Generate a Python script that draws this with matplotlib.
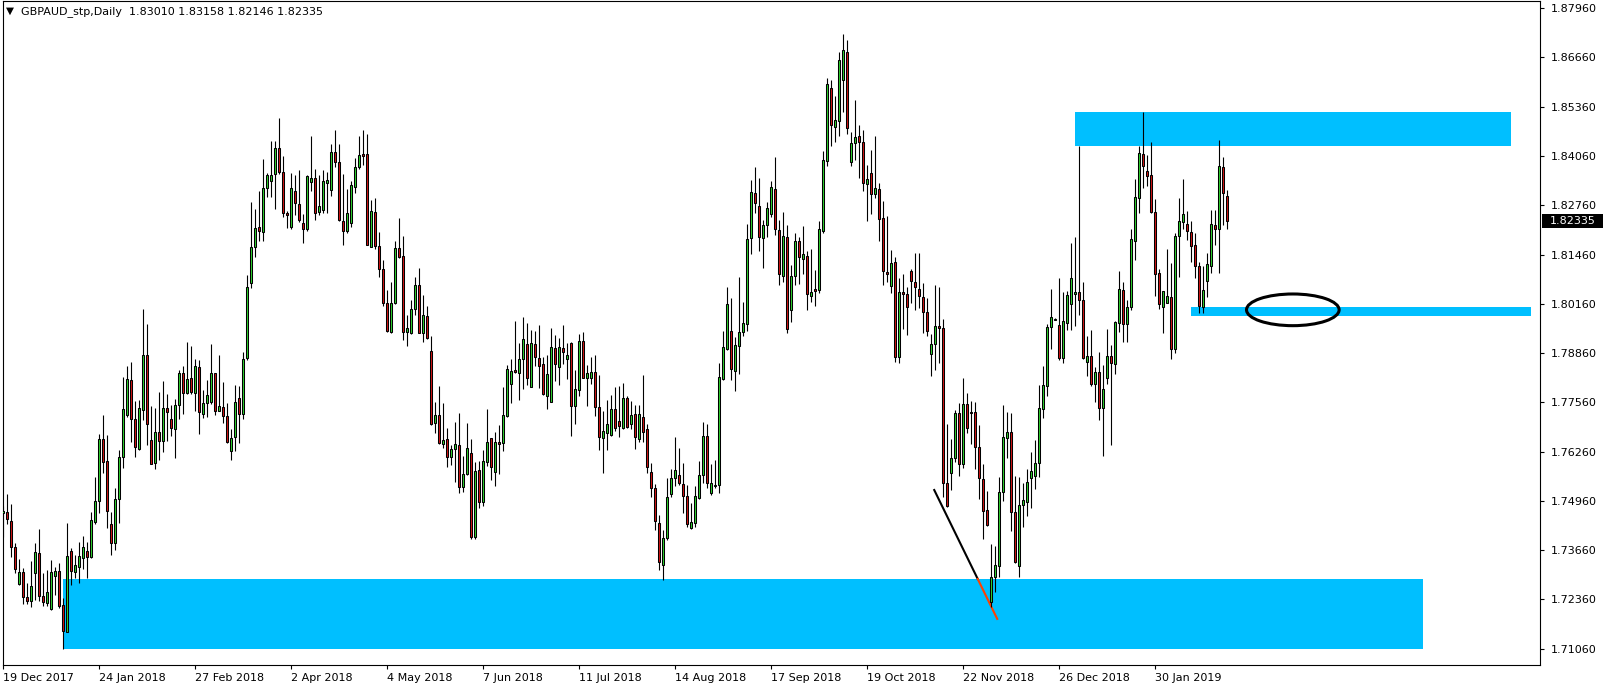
import matplotlib
matplotlib.use("Agg")
import matplotlib.pyplot as plt
from matplotlib.patches import Rectangle, Ellipse

# GBPAUD daily candles, 19 Dec 2017 .. Feb 2019 (bar index = position)
opens = [
    1.74638, 1.74656, 1.74427, 1.73732, 1.72755, 1.73072, 1.72412, 1.72324, 1.73063, 1.73573,
    1.72447, 1.72272, 1.72096, 1.72984, 1.73098, 1.72201, 1.71506, 1.73644, 1.73090, 1.73204,
    1.73459, 1.73626, 1.73485, 1.74409, 1.74963, 1.76582, 1.76002, 1.74339, 1.73855, 1.74999,
    1.76125, 1.77224, 1.78148, 1.77110, 1.76327, 1.77356, 1.78799, 1.76556, 1.75949, 1.76767,
    1.76529, 1.77400, 1.77109, 1.76846, 1.77488, 1.78323, 1.77796, 1.78192, 1.77796, 1.78499,
    1.77250, 1.77532, 1.77576, 1.78323, 1.77338, 1.77426, 1.77197, 1.76274, 1.76652, 1.77664,
    1.77241, 1.78719, 1.80699, 1.81649, 1.82177, 1.82045, 1.83206, 1.83408, 1.83584, 1.84261,
    1.83628, 1.82546, 1.82194, 1.83135, 1.82784, 1.82282, 1.82124, 1.83382, 1.83470, 1.82572,
    1.82634, 1.83356, 1.83163, 1.84157, 1.83893, 1.82345, 1.82089, 1.82301, 1.83251, 1.83761,
    1.84113, 1.84113, 1.81667, 1.82573, 1.81685, 1.81069, 1.80172, 1.79406, 1.80172, 1.81632,
    1.81421, 1.79424, 1.79380, 1.80013, 1.80656, 1.79380, 1.79837, 1.78914, 1.77005, 1.77225,
    1.76451, 1.76583, 1.76125, 1.76319, 1.76433, 1.75333, 1.75659, 1.76213, 1.73996, 1.75773,
    1.74920, 1.75975, 1.76608, 1.75711, 1.76503, 1.76476, 1.77206, 1.78033, 1.78403, 1.78341,
    1.78693, 1.79089, 1.77972, 1.79089, 1.78720, 1.78570, 1.77734, 1.77576, 1.78983, 1.78500,
    1.78983, 1.78711, 1.79115, 1.77470, 1.77875, 1.79186, 1.78209, 1.78192, 1.78350, 1.77444,
    1.76608, 1.76740, 1.76687, 1.77374, 1.77074, 1.76872, 1.77664, 1.76978, 1.77242, 1.76582,
    1.77162, 1.76846, 1.75729, 1.75289, 1.74382, 1.73266, 1.73970, 1.75131, 1.75553, 1.75641,
    1.75404, 1.75087, 1.74234, 1.74383, 1.75043, 1.75641, 1.76670, 1.75157, 1.75360, 1.75377,
    1.78175, 1.78966, 1.79450, 1.78395, 1.79054, 1.79406, 1.79617, 1.81887, 1.83075, 1.82749,
    1.81887, 1.82230, 1.82520, 1.83198, 1.82107, 1.80902, 1.81913, 1.79996, 1.80893, 1.81817,
    1.81342, 1.81421, 1.80374, 1.80541, 1.80524, 1.82089, 1.83935, 1.85854, 1.84833, 1.84991,
    1.86065, 1.86804, 1.83893, 1.84394, 1.84587, 1.84437, 1.83321, 1.83603, 1.83048, 1.83180,
    1.82415, 1.80990, 1.80629, 1.81271, 1.78747, 1.80480, 1.80409, 1.81025, 1.80744, 1.80541,
    1.80348, 1.79952, 1.78826, 1.79090, 1.79582, 1.79512, 1.75439, 1.75703, 1.76081, 1.77269,
    1.75923, 1.77505, 1.77294, 1.77294, 1.76371, 1.75535, 1.74717, 1.72300, 1.72941, 1.73248,
    1.75183, 1.76608, 1.76766, 1.74655, 1.73248, 1.74849, 1.74937, 1.75552, 1.75623, 1.75948,
    1.77373, 1.77998, 1.79555, 1.79740, 1.79599, 1.78737, 1.79661, 1.80144, 1.80408, 1.80461,
    1.80259, 1.78631, 1.78781, 1.78042, 1.78350, 1.77400, 1.78209, 1.78781, 1.78561, 1.79643,
    1.80523, 1.79617, 1.80083, 1.81825, 1.82942, 1.84112, 1.83663, 1.83549, 1.82572, 1.80963,
    1.80083, 1.80171, 1.80347, 1.78957, 1.81948, 1.82326, 1.82256, 1.82045, 1.81710, 1.81165,
    1.80065, 1.80769, 1.81165, 1.82238, 1.82124, 1.83778, 1.83010,
]
highs = [
    1.74823, 1.75139, 1.74875, 1.73837, 1.73415, 1.73178, 1.72782, 1.73371, 1.73837, 1.74216,
    1.73046, 1.73134, 1.73397, 1.73222, 1.73310, 1.72386, 1.74365, 1.73723, 1.73521, 1.73873,
    1.74031, 1.73881, 1.74656, 1.75597, 1.76723, 1.77224, 1.76696, 1.74673, 1.75289, 1.76301,
    1.78218, 1.78517, 1.78623, 1.77602, 1.77620, 1.80022, 1.79626, 1.77471, 1.77400, 1.77831,
    1.78122, 1.77778, 1.77488, 1.77646, 1.78411, 1.78517, 1.79142, 1.79054, 1.78693, 1.78675,
    1.77884, 1.78139, 1.79089, 1.78341, 1.78798, 1.78104, 1.77532, 1.76863, 1.78007, 1.77989,
    1.78886, 1.80919, 1.82836, 1.82652, 1.83135, 1.83971, 1.83619, 1.84455, 1.84455, 1.85071,
    1.84059, 1.82599, 1.83602, 1.83566, 1.83690, 1.82520, 1.83549, 1.84596, 1.83707, 1.83558,
    1.83690, 1.83629, 1.84377, 1.84746, 1.84377, 1.83585, 1.83189, 1.83400, 1.83998, 1.84588,
    1.84746, 1.84641, 1.82899, 1.82943, 1.82054, 1.81315, 1.80524, 1.80726, 1.81817, 1.82433,
    1.81949, 1.79864, 1.80260, 1.80858, 1.81104, 1.80392, 1.80101, 1.79310, 1.77559, 1.77990,
    1.77533, 1.76873, 1.76433, 1.77031, 1.77269, 1.76143, 1.77005, 1.76583, 1.75976, 1.76019,
    1.76301, 1.77382, 1.76608, 1.76767, 1.76960, 1.77954, 1.78544, 1.78693, 1.79705, 1.79115,
    1.79802, 1.79643, 1.79467, 1.79450, 1.79599, 1.78746, 1.78799, 1.79511, 1.79335, 1.79247,
    1.79599, 1.79115, 1.79142, 1.78412, 1.79362, 1.79406, 1.78535, 1.78746, 1.78799, 1.78271,
    1.77321, 1.77611, 1.77752, 1.77954, 1.77989, 1.78060, 1.77717, 1.77594, 1.77488, 1.77488,
    1.78280, 1.76978, 1.75949, 1.75395, 1.74585, 1.74189, 1.75553, 1.75799, 1.76653, 1.76362,
    1.75949, 1.75377, 1.74911, 1.75351, 1.76011, 1.77031, 1.76978, 1.75931, 1.76037, 1.78588,
    1.79450, 1.80594, 1.80321, 1.79292, 1.80875, 1.80216, 1.82265, 1.83418, 1.83761, 1.83470,
    1.82371, 1.82855, 1.83409, 1.84025, 1.82371, 1.82573, 1.82230, 1.81183, 1.82019, 1.81913,
    1.82213, 1.81553, 1.81597, 1.81051, 1.82345, 1.84192, 1.86118, 1.86065, 1.85643, 1.86804,
    1.87279, 1.87121, 1.84685, 1.85537, 1.84878, 1.84746, 1.83822, 1.84218, 1.84588, 1.83356,
    1.82872, 1.82477, 1.81579, 1.81386, 1.80832, 1.80946, 1.80594, 1.81069, 1.81491, 1.81491,
    1.80700, 1.80304, 1.79362, 1.80656, 1.80594, 1.79749, 1.76987, 1.76583, 1.77357, 1.77533,
    1.78210, 1.77796, 1.77593, 1.77576, 1.76960, 1.75931, 1.75227, 1.73813, 1.73768, 1.75579,
    1.77488, 1.77294, 1.77268, 1.75614, 1.75596, 1.75420, 1.75790, 1.76256, 1.76564, 1.78016,
    1.78526, 1.79625, 1.80549, 1.79775, 1.80848, 1.80461, 1.80496, 1.81772, 1.81930, 1.84332,
    1.80725, 1.79309, 1.79467, 1.78499, 1.78878, 1.78543, 1.79485, 1.79071, 1.79705, 1.81024,
    1.80725, 1.80259, 1.82124, 1.83452, 1.84323, 1.85220, 1.84085, 1.84420, 1.82924, 1.81068,
    1.80505, 1.81605, 1.81244, 1.82036, 1.82942, 1.83452, 1.82608, 1.82352, 1.82036, 1.81270,
    1.81165, 1.81508, 1.82634, 1.82634, 1.84481, 1.84041, 1.83158,
]
lows = [
    1.74013, 1.74348, 1.73468, 1.73046, 1.72738, 1.72236, 1.72236, 1.72148, 1.72342, 1.72315,
    1.72184, 1.72193, 1.72078, 1.72474, 1.72140, 1.71040, 1.71488, 1.72738, 1.72931, 1.72782,
    1.73151, 1.72931, 1.73459, 1.74348, 1.74629, 1.75685, 1.74251, 1.73529, 1.73661, 1.74383,
    1.75834, 1.77163, 1.76512, 1.76125, 1.76301, 1.77092, 1.76441, 1.75922, 1.75790, 1.76037,
    1.76257, 1.76547, 1.76678, 1.76080, 1.77109, 1.77250, 1.77769, 1.77778, 1.77338, 1.76714,
    1.77153, 1.77162, 1.77514, 1.77224, 1.77329, 1.77022, 1.76476, 1.76027, 1.76283, 1.76494,
    1.77109, 1.78675, 1.80567, 1.81402, 1.81816, 1.81825, 1.82986, 1.82986, 1.82669, 1.83584,
    1.82458, 1.82150, 1.82124, 1.82502, 1.82326, 1.81772, 1.82089, 1.83144, 1.82370, 1.82502,
    1.82546, 1.82547, 1.83013, 1.83779, 1.82353, 1.81711, 1.82037, 1.82195, 1.83075, 1.83708,
    1.83822, 1.81711, 1.81650, 1.81614, 1.80875, 1.80101, 1.79415, 1.79397, 1.80154, 1.81377,
    1.79204, 1.79054, 1.79362, 1.79873, 1.79380, 1.79160, 1.79222, 1.76961, 1.76741, 1.76459,
    1.76363, 1.75861, 1.75905, 1.75465, 1.75175, 1.75201, 1.75641, 1.73952, 1.73943, 1.74762,
    1.74832, 1.75887, 1.75509, 1.75359, 1.75658, 1.76283, 1.77180, 1.77550, 1.78341, 1.77620,
    1.77901, 1.78007, 1.77972, 1.78526, 1.77928, 1.77760, 1.77391, 1.77576, 1.78130, 1.78007,
    1.78561, 1.78165, 1.76679, 1.76995, 1.77734, 1.78209, 1.77470, 1.78042, 1.77206, 1.76300,
    1.75702, 1.76300, 1.76670, 1.76811, 1.76635, 1.76855, 1.76872, 1.76846, 1.76318, 1.76503,
    1.76520, 1.75703, 1.75069, 1.74189, 1.73134, 1.72870, 1.73926, 1.75052, 1.75360, 1.75377,
    1.74629, 1.74260, 1.74207, 1.74278, 1.74999, 1.75439, 1.75289, 1.75113, 1.75289, 1.75157,
    1.78148, 1.78940, 1.78148, 1.77867, 1.78307, 1.79309, 1.79441, 1.81465, 1.82564, 1.81553,
    1.81113, 1.81913, 1.82459, 1.81975, 1.80655, 1.80743, 1.79380, 1.79688, 1.80655, 1.80673,
    1.80946, 1.79996, 1.80198, 1.80101, 1.80453, 1.82037, 1.83804, 1.84331, 1.84437, 1.84587,
    1.85229, 1.84640, 1.83796, 1.83954, 1.83487, 1.83144, 1.82353, 1.82529, 1.82943, 1.81826,
    1.80656, 1.80744, 1.80453, 1.78632, 1.78588, 1.79486, 1.79336, 1.80172, 1.79996, 1.80040,
    1.79398, 1.79310, 1.78263, 1.78412, 1.78606, 1.75069, 1.74788, 1.75245, 1.75993, 1.75624,
    1.75817, 1.76740, 1.76450, 1.75790, 1.74998, 1.73943, 1.74294, 1.72150, 1.72554, 1.72940,
    1.74963, 1.76098, 1.74171, 1.73309, 1.72957, 1.74277, 1.74567, 1.74761, 1.75271, 1.75596,
    1.77153, 1.77734, 1.78966, 1.79722, 1.78675, 1.78605, 1.79467, 1.79467, 1.79573, 1.79863,
    1.78702, 1.78253, 1.77998, 1.77576, 1.77092, 1.76142, 1.78042, 1.76432, 1.78297, 1.79406,
    1.79159, 1.79159, 1.79995, 1.81314, 1.82564, 1.83223, 1.83267, 1.82564, 1.80373, 1.80012,
    1.79379, 1.80171, 1.78693, 1.78851, 1.80875, 1.82124, 1.81842, 1.81270, 1.80831, 1.79907,
    1.79907, 1.80347, 1.80963, 1.81710, 1.80963, 1.82238, 1.82146,
]
closes = [
    1.74691, 1.74471, 1.73749, 1.73151, 1.73072, 1.72430, 1.72324, 1.72711, 1.73600, 1.72456,
    1.72298, 1.72562, 1.73072, 1.73098, 1.72193, 1.71533, 1.73503, 1.73116, 1.73257, 1.73503,
    1.73732, 1.73485, 1.74453, 1.74963, 1.76582, 1.75993, 1.74699, 1.73855, 1.74999, 1.76125,
    1.77374, 1.78165, 1.77110, 1.76388, 1.77400, 1.78799, 1.76978, 1.75940, 1.76767, 1.76547,
    1.77409, 1.77312, 1.76872, 1.77488, 1.78323, 1.77796, 1.78165, 1.77822, 1.78526, 1.77294,
    1.77549, 1.77743, 1.78323, 1.77338, 1.77470, 1.77206, 1.76502, 1.76626, 1.77576, 1.77241,
    1.78693, 1.80611, 1.81649, 1.82150, 1.82071, 1.83206, 1.83549, 1.83549, 1.84261, 1.83628,
    1.82546, 1.82511, 1.83206, 1.82810, 1.82370, 1.82141, 1.83522, 1.83470, 1.82564, 1.82740,
    1.83399, 1.83427, 1.84157, 1.83893, 1.82371, 1.82089, 1.82547, 1.83286, 1.83761, 1.84078,
    1.84069, 1.81720, 1.82609, 1.81685, 1.81069, 1.80172, 1.79442, 1.80172, 1.81632, 1.81386,
    1.79424, 1.79512, 1.80013, 1.80656, 1.79398, 1.79864, 1.79266, 1.76987, 1.77225, 1.76477,
    1.76565, 1.76108, 1.76319, 1.76459, 1.75333, 1.75659, 1.76345, 1.74014, 1.75747, 1.74920,
    1.76011, 1.76503, 1.75843, 1.76503, 1.76450, 1.77215, 1.78429, 1.78394, 1.78350, 1.78693,
    1.79221, 1.78192, 1.79115, 1.78764, 1.78526, 1.77769, 1.78297, 1.79010, 1.78561, 1.79010,
    1.78895, 1.78799, 1.77470, 1.77901, 1.79186, 1.78209, 1.78324, 1.78350, 1.77444, 1.76635,
    1.76811, 1.76978, 1.77374, 1.76890, 1.76934, 1.77681, 1.76899, 1.77215, 1.76635, 1.77242,
    1.76784, 1.75843, 1.75289, 1.74427, 1.73345, 1.73986, 1.75052, 1.75553, 1.75773, 1.75421,
    1.75087, 1.74348, 1.74410, 1.75087, 1.75641, 1.76670, 1.75421, 1.75421, 1.75377, 1.78219,
    1.79028, 1.80154, 1.78438, 1.79072, 1.79406, 1.79644, 1.81869, 1.83101, 1.82828, 1.81931,
    1.82230, 1.82679, 1.83250, 1.82124, 1.80937, 1.81949, 1.79494, 1.80893, 1.81817, 1.81386,
    1.81465, 1.80409, 1.80480, 1.80506, 1.82125, 1.83954, 1.85960, 1.84878, 1.85010, 1.86593,
    1.86857, 1.84790, 1.84394, 1.84569, 1.84437, 1.83339, 1.83444, 1.83048, 1.83207, 1.82389,
    1.81034, 1.80937, 1.81227, 1.78747, 1.80480, 1.80409, 1.80066, 1.80770, 1.80612, 1.80374,
    1.79952, 1.79450, 1.79090, 1.79582, 1.79512, 1.75439, 1.74823, 1.76081, 1.77269, 1.75923,
    1.77506, 1.76872, 1.77277, 1.76388, 1.75552, 1.74699, 1.74321, 1.72958, 1.73266, 1.75183,
    1.76634, 1.76784, 1.74655, 1.73336, 1.74849, 1.74981, 1.75447, 1.75746, 1.75948, 1.77400,
    1.78016, 1.79537, 1.79819, 1.79757, 1.78737, 1.79705, 1.80391, 1.80831, 1.80461, 1.80259,
    1.78737, 1.78781, 1.78042, 1.78350, 1.77400, 1.77901, 1.78790, 1.78587, 1.79669, 1.80540,
    1.79617, 1.80083, 1.81860, 1.82968, 1.84129, 1.83804, 1.83540, 1.82590, 1.80945, 1.80144,
    1.80505, 1.80373, 1.78957, 1.81948, 1.82344, 1.82528, 1.82080, 1.81693, 1.81165, 1.80109,
    1.80523, 1.81209, 1.82265, 1.82133, 1.83795, 1.83091, 1.82335,
]

date_labels = ["19 Dec 2017", "24 Jan 2018", "27 Feb 2018", "2 Apr 2018", "4 May 2018",
               "7 Jun 2018", "11 Jul 2018", "14 Aug 2018", "17 Sep 2018", "19 Oct 2018",
               "22 Nov 2018", "26 Dec 2018", "30 Jan 2019"]
date_bars = [0, 24, 48, 72, 96, 120, 144, 168, 192, 216, 240, 264, 288]
price_ticks = [1.71060 + 0.013 * k for k in range(14)]

# drawn objects: zones (bar from, bar to, price low, price high)
zones = [
    (15, 355, 1.71050, 1.72897),
    (268, 377, 1.84332, 1.85220),
    (297, 382, 1.79845, 1.80075),
]
trend_start = (232.75, 1.75245)
trend_end = (248.5, 1.71844)
ellipse_center = (322.4, 1.80000)
ellipse_size = (23.15, 0.00836)

title = "GBPAUD_stp,Daily  1.83010 1.83158 1.82146 1.82335"
last_price = closes[-1]

W, H = 1604, 689
fig = plt.figure(figsize=(W / 100, H / 100), dpi=100)
ax = fig.add_axes([2.5 / W, 24 / H, 1537.5 / W, 664 / H])
ax.set_xlim(-0.2, 384.2)
ax.set_ylim(1.70627, 1.88150)

zone_color = "#00BFFF"
for x0, x1, p0, p1 in zones:
    ax.add_patch(Rectangle((x0, p0), x1 - x0, p1 - p0, facecolor=zone_color,
                           edgecolor="none", zorder=1))

# trend line, the part over the zone shows in orange like the MT4 xor colour
box_top = zones[0][3]
t = (trend_start[1] - box_top) / (trend_start[1] - trend_end[1])
xb = trend_start[0] + t * (trend_end[0] - trend_start[0])
ax.plot([trend_start[0], xb], [trend_start[1], box_top], color="black", lw=1.5, zorder=1.5)
ax.plot([xb, trend_end[0]], [box_top, trend_end[1]], color="#FF4000", lw=1.5, zorder=1.5)

# candles
up = "#2ED12E"
down = "#D01414"
min_body = 0.00028
for i in range(len(opens)):
    o, h, l, c = opens[i], highs[i], lows[i], closes[i]
    ax.vlines(i, l, h, color="black", lw=0.8, zorder=2)
    bottom = min(o, c)
    height = max(abs(c - o), min_body)
    ax.add_patch(Rectangle((i - 0.28, bottom), 0.56, height,
                           facecolor=up if c >= o else down,
                           edgecolor="black", lw=0.75, zorder=3))

ax.add_patch(Ellipse(ellipse_center, ellipse_size[0], ellipse_size[1], fill=False,
                     edgecolor="black", lw=2.2, zorder=4))

# axes styling like the terminal
for s in ax.spines.values():
    s.set_color("black")
    s.set_linewidth(0.8)
ax.yaxis.tick_right()
ax.set_yticks(price_ticks)
ax.set_yticklabels(["%.5f" % p for p in price_ticks])
ax.tick_params(axis="y", direction="out", length=3, width=0.8, pad=4.5, labelsize=8)
ax.set_xticks(date_bars)
ax.set_xticklabels(date_labels, ha="left")
ax.tick_params(axis="x", direction="out", length=3, width=0.8, pad=3, labelsize=8)

# last price label on the scale
ytr = ax.get_yaxis_transform()
ax.add_patch(Rectangle((1.0013, last_price - 0.00185), 0.0397, 0.0037, transform=ytr,
                       facecolor="black", edgecolor="none", clip_on=False, zorder=5))
ax.text(1.0212, last_price, "%.5f" % last_price, transform=ytr, color="white",
        fontsize=8, ha="center", va="center", zorder=6, clip_on=False)

fig.text(9.5 / W, 1 - 11 / H, "\u25bc", fontsize=7.5, ha="center", va="center")
fig.text(21 / W, 1 - 12 / H, title, fontsize=8, ha="left", va="center")

fig.savefig("out.png", dpi=100, facecolor="white")
